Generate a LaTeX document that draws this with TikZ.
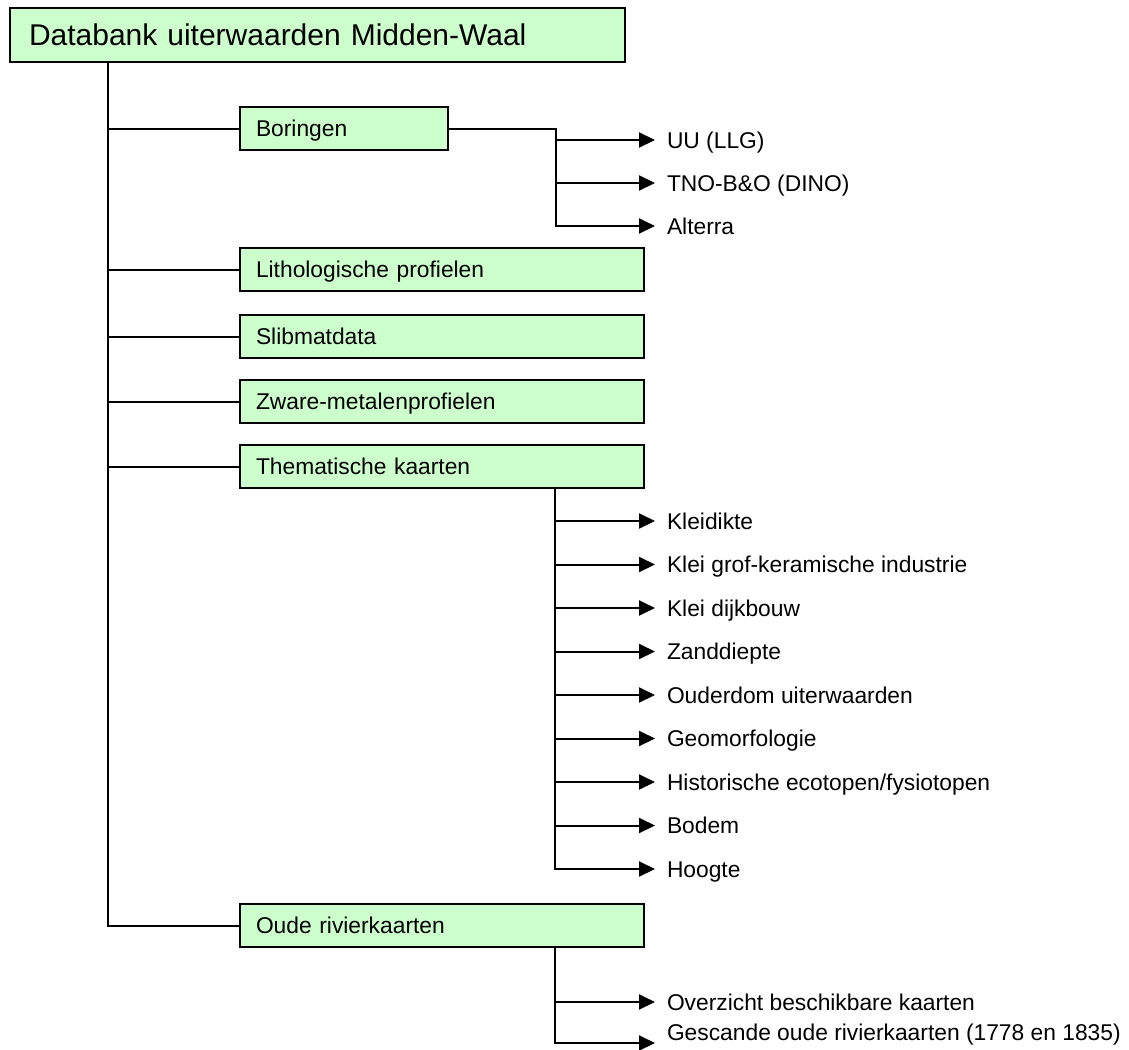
\documentclass[tikz,border=0pt]{standalone}
\usepackage{fontspec}
\setmainfont{Liberation Sans}
\usetikzlibrary{arrows.meta}
\definecolor{boxfill}{RGB}{204,255,204}
\newcommand{\bodyfont}{\fontsize{17.1}{20}\selectfont}
\newcommand{\titlefont}{\fontsize{22.5}{26}\selectfont}

\begin{document}
\begin{tikzpicture}[
    x=0.75pt, y=-0.75pt,
    line width=1.5pt,
    lbl/.style={font=\bodyfont, text height=12.3pt, text depth=0pt},
    box/.style={rectangle, draw=black, fill=boxfill, anchor=north west,
                minimum height=32.25pt, inner xsep=12pt, inner ysep=0pt,
                text width=#1, align=left, lbl},
    box/.default=279pt,
    leaf/.style={lbl, anchor=west, inner xsep=0pt, outer xsep=9pt},
    link/.style={line cap=rect},
    arr/.style={-{Triangle[length=12pt, width=11.25pt]}}
]
\useasboundingbox (0,0) rectangle (1129,1050);

% Root
\node[box, minimum height=40.5pt, inner xsep=14.25pt, text width=432.75pt,
      font=\titlefont, text height=16.2pt] (title) at (9,7) {Databank uiterwaarden Midden-Waal};

% Main branches
\node[box=132pt] (boring) at (239,106) {Boringen};
\node[box] (litho) at (239,247) {Lithologische profielen};
\node[box] (slib)  at (239,314) {Slibmatdata};
\node[box] (zware) at (239,379) {Zware-metalenprofielen};
\node[box] (them)  at (239,444) {Thematische kaarten};
\node[box] (oude)  at (239,903) {Oude rivierkaarten};

% Trunk
\coordinate (trunk) at (108,0);
\draw[link] (trunk |- title.south) -- (trunk |- oude.west);
\foreach \b in {boring,litho,slib,zware,them,oude}
    \draw (trunk |- \b.west) -- (\b.west);

% Boringen
\coordinate (bsplit) at (556,0);
\foreach \n/\y/\t in {uu/140/UU (LLG), tno/183/TNO-B\&O (DINO), alt/226/Alterra}
    \node[leaf] (\n) at (655,\y) {\t};
\draw[link] (boring.east) -- (bsplit |- boring.east) -- (bsplit |- alt.west);
\foreach \n in {uu,tno,alt}
    \draw[arr] (bsplit |- \n.west) -- (\n.west);

% Thematische kaarten
\coordinate (tsplit) at (555,0);
\foreach \t [count=\i from 0] in {Kleidikte, Klei grof-keramische industrie,
    Klei dijkbouw, Zanddiepte, Ouderdom uiterwaarden, Geomorfologie,
    {Historische ecotopen/fysiotopen}, Bodem, Hoogte}
    \node[leaf] (t\i) at (655,{521+43.5*\i}) {\t};
\draw[link] (them.south -| tsplit) -- (tsplit |- t8.west);
\foreach \i in {0,...,8}
    \draw[arr] (tsplit |- t\i.west) -- (t\i.west);

% Oude rivierkaarten
\node[leaf] (o0) at (655,1002) {Overzicht beschikbare kaarten};
\node[leaf] (o1) at (655,1032) {Gescande oude rivierkaarten (1778 en 1835)};
\coordinate (o1end) at (655,1043);
\draw[link] (oude.south -| tsplit) -- (tsplit |- o1end);
\draw[arr] (tsplit |- o0.west) -- (o0.west);
\draw[arr] (tsplit |- o1end) -- (o1end);
\end{tikzpicture}
\end{document}
